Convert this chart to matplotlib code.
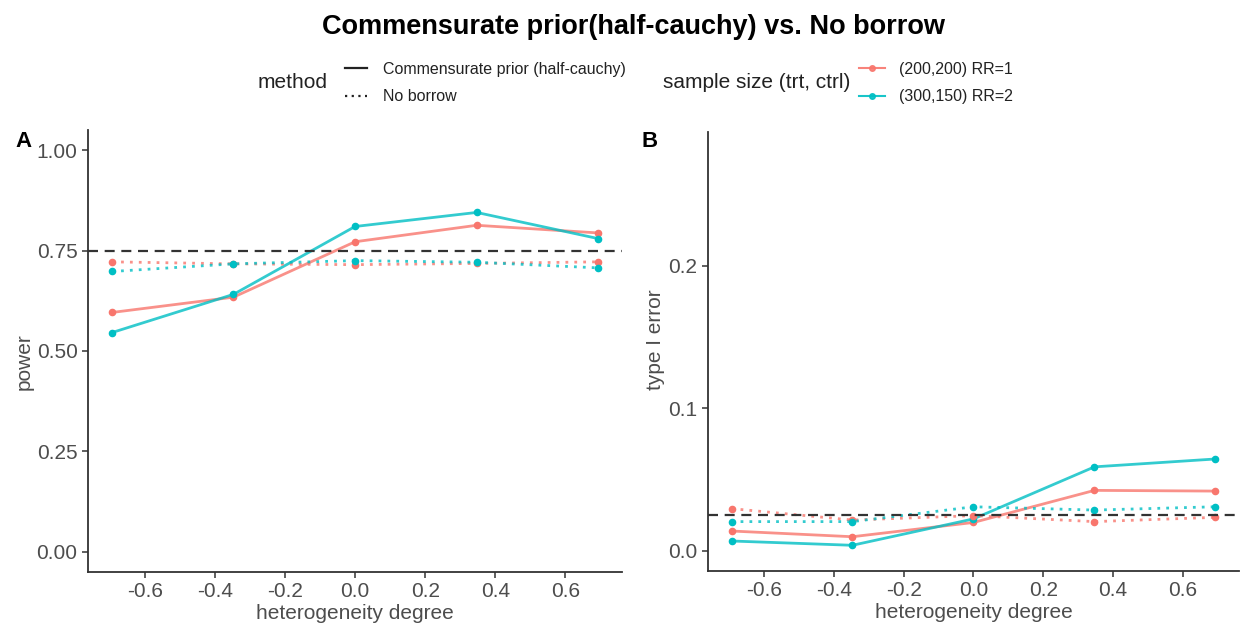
from __future__ import annotations

from typing import List

import matplotlib

matplotlib.use("Agg")
import matplotlib.pyplot as plt
from matplotlib.lines import Line2D

# heterogeneity degree (log scale of the prior/current ratio)
hetero_degree = [-0.693, -0.347, 0.0, 0.347, 0.693]

# panel A: power
power_cp_rr1 = [0.596, 0.634, 0.772, 0.813, 0.794]
power_cp_rr2 = [0.546, 0.641, 0.810, 0.845, 0.780]
power_nb_rr1 = [0.722, 0.717, 0.715, 0.718, 0.722]
power_nb_rr2 = [0.698, 0.717, 0.725, 0.721, 0.707]
power_target = 0.75

# panel B: type I error
t1e_cp_rr1 = [0.014, 0.010, 0.020, 0.0425, 0.042]
t1e_cp_rr2 = [0.007, 0.004, 0.0225, 0.059, 0.0645]
t1e_nb_rr1 = [0.0297, 0.0217, 0.0248, 0.0206, 0.0236]
t1e_nb_rr2 = [0.0206, 0.0206, 0.031, 0.0287, 0.031]
t1e_target = 0.025

series_labels = ["(200,200) RR=1", "(300,150) RR=2"]
method_labels = ["Commensurate prior (half-cauchy)", "No borrow"]

RED = "#F8766D"
CYAN = "#00BFC4"
TXT = "#4D4D4D"

plt.rcParams["font.family"] = ["Liberation Sans", "DejaVu Sans"]


def _draw_panel(ax, cp: List[List[float]], nb: List[List[float]], target: float) -> None:
    for ys, col in zip(cp, [RED, CYAN]):
        ax.plot(hetero_degree, ys, color=col, lw=2.0, alpha=0.8, solid_capstyle="round")
        ax.scatter(hetero_degree, ys, color=col, s=20, zorder=3)
    for ys, col in zip(nb, [RED, CYAN]):
        ax.plot(hetero_degree, ys, color=col, lw=2.0, alpha=0.8, linestyle=(0, (1, 2.2)))
        ax.scatter(hetero_degree, ys, color=col, s=20, zorder=3)
    ax.axhline(target, color="#333333", lw=1.6, linestyle=(0, (4.5, 3)), zorder=4)

    ax.set_xlim(-0.762, 0.762)
    ax.set_xticks([-0.6, -0.4, -0.2, 0.0, 0.2, 0.4, 0.6])
    ax.set_xticklabels(["-0.6", "-0.4", "-0.2", "0.0", "0.2", "0.4", "0.6"])
    for side in ["top", "right"]:
        ax.spines[side].set_visible(False)
    for side in ["left", "bottom"]:
        ax.spines[side].set_color("#333333")
        ax.spines[side].set_linewidth(1.3)
    ax.tick_params(axis="both", labelsize=15, colors="#333333", labelcolor=TXT, length=4, width=1.1)
    ax.set_xlabel("heterogeneity degree", fontsize=15, color=TXT, labelpad=2)


def main() -> None:
    fig = plt.figure(figsize=(12.48, 6.24), dpi=100)
    ax_a = fig.add_axes([0.0705, 0.0835, 0.428, 0.708])
    ax_b = fig.add_axes([0.567, 0.0850, 0.426, 0.704])

    _draw_panel(ax_a, [power_cp_rr1, power_cp_rr2], [power_nb_rr1, power_nb_rr2], power_target)
    ax_a.set_ylim(-0.05, 1.05)
    ax_a.set_yticks([0.0, 0.25, 0.5, 0.75, 1.0])
    ax_a.set_yticklabels(["0.00", "0.25", "0.50", "0.75", "1.00"])

    _draw_panel(ax_b, [t1e_cp_rr1, t1e_cp_rr2], [t1e_nb_rr1, t1e_nb_rr2], t1e_target)
    ax_b.set_ylim(-0.014, 0.294)
    ax_b.set_yticks([0.0, 0.1, 0.2])
    ax_b.set_yticklabels(["0.0", "0.1", "0.2"])

    # y labels placed in figure space, like the reference
    fig.text(0.019, 0.42, "power", fontsize=15, color=TXT, rotation=90, ha="center", va="center")
    fig.text(0.525, 0.455, "type I error", fontsize=15, color=TXT, rotation=90, ha="center", va="center")

    fig.text(0.012, 0.765, "A", fontsize=16, fontweight="bold")
    fig.text(0.514, 0.765, "B", fontsize=16, fontweight="bold")

    fig.suptitle(
        "Commensurate prior(half-cauchy) vs. No borrow",
        x=0.508, y=0.977, fontsize=19.5, fontweight="bold",
    )

    # legends sit above the panels, with their titles on the left
    fig.text(0.2065, 0.867, "method", fontsize=15, color="#222222", va="center")
    method_handles = [
        Line2D([], [], color="#222222", lw=1.6),
        Line2D([], [], color="#222222", lw=1.6, linestyle=(0, (1, 2))),
    ]
    fig.legend(
        method_handles, method_labels, loc="center left", bbox_to_anchor=(0.265, 0.867),
        frameon=False, fontsize=11.5, handlelength=1.4, handletextpad=1.0, labelspacing=0.8,
        labelcolor="#222222",
    )

    fig.text(0.531, 0.867, "sample size (trt, ctrl)", fontsize=15, color="#222222", va="center")
    size_handles = [
        Line2D([], [], color=RED, lw=1.5, marker="o", markersize=4, alpha=0.9),
        Line2D([], [], color=CYAN, lw=1.5, marker="o", markersize=4, alpha=0.9),
    ]
    fig.legend(
        size_handles, series_labels, loc="center left", bbox_to_anchor=(0.677, 0.867),
        frameon=False, fontsize=11.5, handlelength=1.6, handletextpad=0.9, labelspacing=0.8,
        labelcolor="#222222",
    )

    fig.savefig("out.png", dpi=100)
    plt.close(fig)


if __name__ == "__main__":
    main()
